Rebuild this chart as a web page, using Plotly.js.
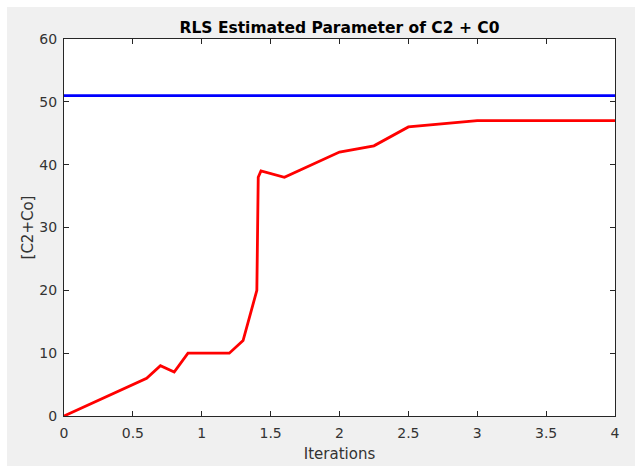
<!DOCTYPE html>
<html>
<head>
<meta charset="utf-8">
<script src="https://cdn.plot.ly/plotly-3.0.1.min.js"></script>
<style>
html,body{margin:0;padding:0;background:#ffffff;width:635px;height:466px;overflow:hidden;}
#plot{position:absolute;left:7px;top:7px;width:628px;height:459px;}
</style>
</head>
<body>
<div id="plot"></div>
<script>
const iterations = [0, 0.6, 0.7, 0.8, 0.9, 1.2, 1.3, 1.4, 1.41, 1.43, 1.6, 2.0, 2.25, 2.5, 3.0, 4.0];
const estimated = [0, 6, 8, 7, 10, 10, 12, 20, 38, 39, 38, 42, 43, 46, 47, 47];
const trueX = [0, 4];
const trueValue = [51, 51];
const xTicks = [0, 0.5, 1, 1.5, 2, 2.5, 3, 3.5, 4];
const xTickText = ['0', '0.5', '1', '1.5', '2', '2.5', '3', '3.5', '4'];
const yTicks = [0, 10, 20, 30, 40, 50, 60];

const font = 'DejaVu Sans, Verdana, sans-serif';
const axisColor = '#262626';
const labelColor = '#333333';

const traces = [
  {x: trueX, y: trueValue, mode: 'lines', line: {color: '#0000ff', width: 2.8}, hoverinfo: 'skip'},
  {x: iterations, y: estimated, mode: 'lines', line: {color: '#ff0000', width: 2.8}, hoverinfo: 'skip'}
];

const layout = {
  width: 628, height: 459,
  paper_bgcolor: '#f0f0f0', plot_bgcolor: '#ffffff',
  margin: {l: 57, r: 20, t: 32, b: 50},
  showlegend: false,
  font: {family: font, size: 14, color: labelColor},
  title: {text: '<b>RLS Estimated Parameter of C2 + C0</b>', font: {family: font, size: 15.5, color: '#000000'},
          x: 0.5, xref: 'paper', y: 1, yref: 'paper', yanchor: 'bottom', pad: {b: 6}},
  xaxis: {range: [0, 4], tickvals: xTicks, ticktext: xTickText, ticks: 'inside', ticklen: 5,
          tickcolor: axisColor, showgrid: false, zeroline: false, showline: true, linecolor: axisColor,
          linewidth: 1, mirror: 'ticks', tickfont: {size: 14, color: labelColor}, ticklabelstandoff: 4,
          title: {text: 'Iterations', font: {size: 15, color: labelColor}, standoff: 8}},
  yaxis: {range: [0, 60], tickvals: yTicks, ticks: 'inside', ticklen: 5,
          tickcolor: axisColor, showgrid: false, zeroline: false, showline: true, linecolor: axisColor,
          linewidth: 1, mirror: 'ticks', tickfont: {size: 14, color: labelColor}, ticklabelstandoff: 3,
          title: {text: '[C2+Co]', font: {size: 15, color: labelColor}, standoff: 2}}
};

Plotly.newPlot('plot', traces, layout, {staticPlot: true, displayModeBar: false});
</script>
</body>
</html>
